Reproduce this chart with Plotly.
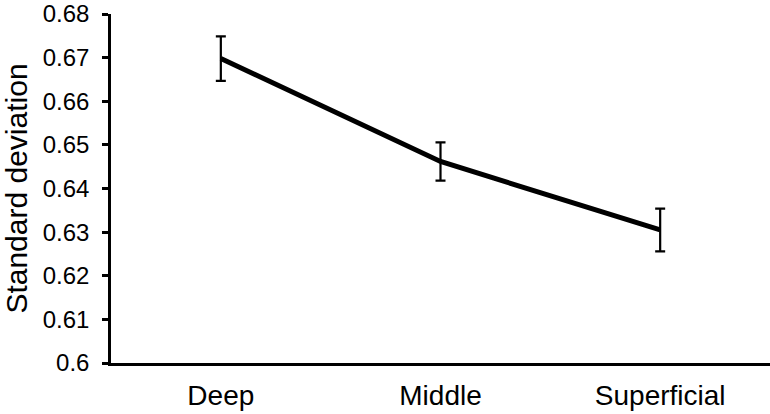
import plotly.graph_objects as go

layers = ["Deep", "Middle", "Superficial"]
std_dev = [0.6698, 0.6462, 0.6305]
err = [0.0051, 0.0044, 0.0049]
y_ticks = [0.6, 0.61, 0.62, 0.63, 0.64, 0.65, 0.66, 0.67, 0.68]
y_tick_text = ["0.6", "0.61", "0.62", "0.63", "0.64", "0.65", "0.66", "0.67", "0.68"]

fig = go.Figure()
fig.add_trace(go.Scatter(
    x=layers, y=std_dev, mode="lines",
    line=dict(color="black", width=5),
    error_y=dict(type="data", array=err, color="black", thickness=2.2, width=5),
    showlegend=False,
))

fig.update_layout(
    width=770, height=414,
    margin=dict(l=111, r=0, t=10, b=51),
    plot_bgcolor="white", paper_bgcolor="white",
    font=dict(family="Liberation Sans, Arial, sans-serif", size=24, color="black"),
)
fig.update_xaxes(
    range=[-0.5, 2.5], showline=True, linecolor="black", linewidth=2.5,
    ticks="", showgrid=False, tickfont=dict(size=28), ticklabelstandoff=6,
)
fig.update_yaxes(
    range=[0.6, 0.68002], tickvals=y_ticks, ticktext=y_tick_text,
    showline=True, linecolor="black", linewidth=2.5,
    ticks="outside", ticklen=6, tickwidth=2.5, tickcolor="black",
    showgrid=False, zeroline=False, tickfont=dict(size=24), ticklabelstandoff=8,
    ticklabeloverflow="allow",
    title=dict(text="Standard deviation", font=dict(size=30), standoff=7),
)

fig.write_html("out.html", config={"displayModeBar": False},
               post_script="document.body.style.margin='0';")
